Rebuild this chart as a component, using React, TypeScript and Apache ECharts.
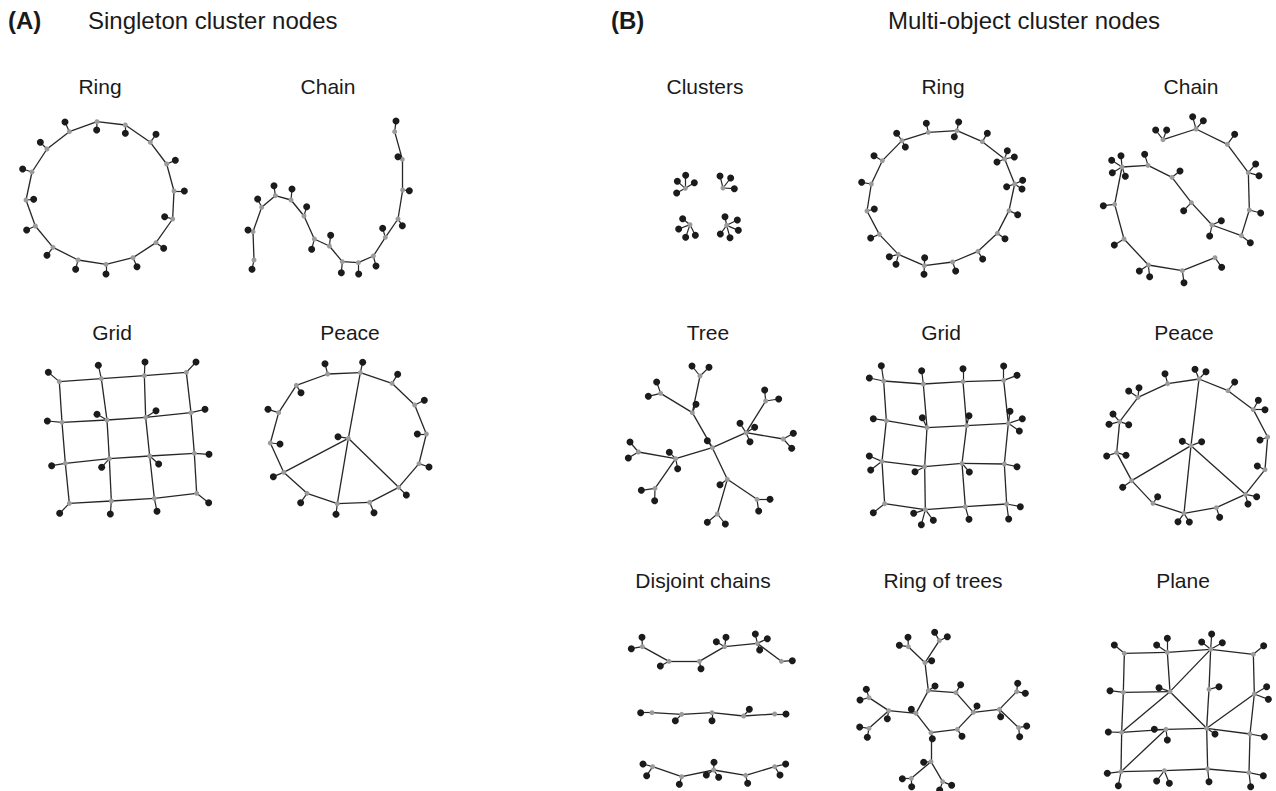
import React, { useEffect, useRef } from "react";
import * as echarts from "echarts";

// ---------- DATA (node coordinates in each panel's local units) ----------
// clusters: [x, y] gray cluster nodes; objects: [clusterIndex, x, y] black object nodes
const ringA_clusters = [[291,35],[376,45],[451,97],[500,162],[522,243],[518,327],[468,398],[399,443],[318,463],[234,450],[159,412],[106,348],[78,270],[96,186],[141,117],[208,65]];
const ringA_objects = [[0,290,60],[1,376,70],[2,468,73],[3,526,151],[4,553,243],[5,494,320],[6,491,415],[7,411,470],[8,318,492],[9,227,478],[10,141,436],[11,80,360],[12,101,268],[13,68,177],[14,121,97],[15,195,36]];

const chainA_clusters = [[72,465],[69,380],[95,307],[136,272],[183,285],[222,333],[253,402],[298,423],[337,470],[385,473],[430,453],[466,397],[504,342],[518,255],[517,163],[494,80]];
const chainA_objects = [[0,66,493],[1,54,375],[2,83,282],[3,132,242],[4,186,252],[5,230,305],[6,245,433],[7,302,391],[8,334,503],[9,386,507],[10,438,483],[11,458,370],[12,517,362],[13,538,257],[14,504,155],[15,498,48]];

const gridA_clusters = [[88,185],[214,176],[343,167],[469,157],[96,307],[231,300],[347,292],[483,278],[106,430],[238,416],[359,408],[493,400],[118,550],[244,543],[373,535],[500,520]];
const gridA_objects = [[0,55,157],[1,205,136],[2,345,126],[3,498,126],[4,52,303],[5,201,283],[6,378,272],[7,525,268],[8,65,437],[9,215,442],[10,386,432],[11,537,403],[12,89,580],[13,241,582],[14,381,574],[15,536,548]];

const peaceA_clusters = [[331,158],[426,190],[494,255],[529,342],[507,431],[446,502],[359,547],[262,551],[171,520],[101,457],[61,369],[86,278],[139,196],[233,162],[295,355]];
const peaceA_objects = [[0,338,127],[1,443,163],[2,523,241],[3,502,342],[4,537,441],[5,469,525],[6,372,578],[7,258,583],[8,152,548],[9,70,470],[10,90,372],[11,54,268],[12,153,218],[13,225,131],[14,264,350]];
const peaceA_spokes = [[14,0],[14,5],[14,7],[14,9]];

const clustersB_clusters = [[106,85],[219,84],[120,194],[230,196]];
const clustersB_objects = [[0,107,46],[0,82,64],[0,133,68],[0,80,99],[1,210,48],[1,242,54],[1,253,86],[2,98,176],[2,86,207],[2,107,232],[2,136,226],[3,225,170],[3,262,180],[3,265,211],[3,240,233],[3,211,222]];

const ringB_clusters = [[250,67],[336,62],[412,95],[479,147],[509,222],[492,302],[457,370],[399,424],[323,456],[238,467],[160,433],[103,373],[66,303],[79,222],[112,152],[171,92]];
const ringB_objects = [[0,244,40],[1,341,36],[1,328,80],[2,427,70],[3,487,122],[3,508,141],[3,456,156],[4,533,211],[4,531,237],[4,485,230],[5,518,314],[6,480,386],[7,413,447],[8,332,483],[9,239,443],[9,237,493],[10,133,440],[10,153,463],[11,77,384],[12,88,297],[13,50,217],[14,87,137],[15,155,70],[15,181,111]];

const chainB_clusters = [[234,104],[333,72],[427,118],[490,203],[493,315],[469,392],[381,360],[319,293],[261,217],[189,181],[111,186],[89,298],[117,402],[190,480],[292,497],[390,458]];
const chainB_objects = [[0,212,75],[0,245,75],[1,323,35],[1,355,47],[2,449,88],[3,512,177],[3,522,212],[4,527,324],[5,496,413],[6,409,347],[6,374,393],[7,296,317],[8,285,198],[9,179,148],[10,80,166],[10,108,152],[10,82,203],[10,121,214],[11,55,302],[12,88,420],[13,163,498],[13,194,515],[14,297,533],[15,410,487]];

const treeB_clusters = [[307,383],[247,278],[270,168],[152,220],[408,338],[467,243],[520,357],[197,416],[85,396],[135,505],[352,478],[441,538],[322,582]];
const treeB_edges = [[0,1],[1,2],[1,3],[0,4],[4,5],[4,6],[0,7],[7,8],[7,9],[0,10],[10,11],[10,12]];
const treeB_objects = [[0,292,362],[1,258,253],[2,246,138],[2,297,142],[3,140,186],[3,115,229],[4,390,310],[4,434,322],[4,420,365],[5,464,210],[5,506,237],[6,550,340],[6,545,385],[7,178,397],[7,203,446],[8,60,366],[8,55,414],[9,94,511],[9,134,542],[10,330,494],[11,480,538],[11,446,573],[12,292,607],[12,346,612]];

const gridB_clusters = [[101,183],[220,192],[339,185],[461,181],[109,302],[231,323],[350,317],[475,310],[96,424],[224,440],[336,430],[463,432],[104,551],[226,569],[346,560],[470,552]];
const gridB_objects = [[0,94,137],[0,58,174],[1,215,152],[2,339,146],[3,461,138],[3,501,166],[4,70,296],[5,217,293],[6,357,287],[7,480,274],[7,517,296],[7,508,333],[8,58,408],[8,62,450],[9,195,455],[10,358,456],[11,501,440],[12,70,578],[13,191,580],[13,214,614],[13,250,601],[14,357,598],[15,476,597],[15,511,560]];

const peaceB_clusters = [[342,177],[429,212],[505,269],[548,351],[540,449],[481,523],[394,563],[297,580],[204,550],[140,482],[95,398],[104,305],[159,232],[248,191],[318,377]];
const peaceB_objects = [[0,330,148],[0,363,155],[1,449,186],[2,520,241],[2,540,269],[3,525,360],[4,517,438],[5,515,530],[5,489,552],[6,404,592],[7,279,605],[7,313,606],[8,218,530],[9,113,502],[10,65,408],[10,123,406],[11,84,282],[11,72,313],[11,131,314],[12,131,213],[12,162,203],[13,240,161],[14,292,364],[14,350,365]];
const peaceB_spokes = [[14,0],[14,5],[14,7],[14,9]];

const disjointB_clusters = [[97,80],[177,124],[268,124],[344,80],[442,70],[514,124],[126,278],[215,283],[306,278],[401,288],[494,282],[128,440],[215,470],[311,450],[407,466],[494,440]];
const disjointB_edges = [[0,1],[1,2],[2,3],[3,4],[4,5],[6,7],[7,8],[8,9],[9,10],[11,12],[12,13],[13,14],[14,15]];
const disjointB_objects = [[0,96,52],[0,64,86],[1,151,138],[2,273,146],[3,319,65],[3,348,52],[4,436,42],[4,472,56],[4,449,90],[5,547,122],[6,92,278],[7,196,302],[8,306,302],[9,418,268],[10,528,282],[11,99,432],[11,110,467],[12,208,493],[13,312,427],[13,289,465],[13,326,472],[14,413,490],[15,527,432],[15,510,465]];

const ringTreesB_clusters = [[250,212],[333,218],[385,277],[337,328],[258,338],[213,280],[240,128],[190,80],[283,62],[131,272],[72,233],[72,325],[463,268],[515,215],[521,323],[258,425],[199,475],[293,485]];
const ringTreesB_edges = [[0,1],[1,2],[2,3],[3,4],[4,5],[5,0],[0,6],[6,7],[6,8],[5,9],[9,10],[9,11],[2,12],[12,13],[12,14],[4,15],[15,16],[15,17]];
const ringTreesB_objects = [[0,270,198],[1,347,194],[2,396,258],[3,351,349],[4,262,356],[5,199,268],[6,260,122],[7,163,76],[7,189,52],[8,269,37],[8,307,50],[9,127,296],[10,64,208],[10,45,240],[11,44,321],[11,67,352],[12,467,290],[13,518,190],[13,541,220],[14,545,318],[14,524,350],[15,236,427],[16,172,476],[16,200,500],[17,320,496],[17,284,510]];

const planeB_clusters = [[88,100],[217,97],[347,88],[475,103],[85,217],[225,215],[342,208],[478,222],[80,337],[213,328],[335,325],[465,342],[78,455],[208,452],[338,447],[462,458]];
const planeB_edges = [[0,1],[1,2],[2,3],[4,5],[8,9],[9,10],[10,11],[12,13],[13,14],[14,15],[0,4],[4,8],[8,12],[1,5],[2,6],[6,10],[10,14],[3,7],[7,11],[11,15],[8,5],[5,2],[5,10],[10,7],[12,9]];
const planeB_objects = [[0,58,75],[1,185,75],[1,217,55],[2,320,66],[2,350,42],[2,382,68],[3,506,77],[4,45,212],[5,192,203],[6,372,200],[7,515,200],[7,520,238],[8,40,336],[9,178,328],[9,217,360],[10,360,342],[11,508,350],[12,37,460],[12,70,497],[13,185,483],[13,223,490],[14,342,485],[15,505,467],[15,467,500]];

// Titles
const headerTexts = ["(A)", "Singleton cluster nodes", "(B)", "Multi-object cluster nodes"];
const panelTitles = ["Ring", "Chain", "Grid", "Peace", "Clusters", "Ring", "Chain", "Tree", "Grid", "Peace", "Disjoint chains", "Ring of trees", "Plane"];

// ---------- topology helpers ----------
const ringEdges = (n: number) => Array.from({ length: n }, (_, i) => [i, (i + 1) % n]);
const pathEdges = (n: number) => Array.from({ length: n - 1 }, (_, i) => [i, i + 1]);
const gridEdges = (r: number, c: number) => {
  const e: number[][] = [];
  for (let i = 0; i < r; i++)
    for (let j = 0; j < c; j++) {
      const k = i * c + j;
      if (j < c - 1) e.push([k, k + 1]);
      if (i < r - 1) e.push([k, k + c]);
    }
  return e;
};

// ---------- layout (panel placement in px; local units are 3x px) ----------
const panels = [
  { clusters: ringA_clusters, edges: ringEdges(16), objects: ringA_objects, left: 0, top: 110, w: 200, h: 175, tx: 100, ty: 86 },
  { clusters: chainA_clusters, edges: pathEdges(16), objects: chainA_objects, left: 230, top: 105, w: 190, h: 180, tx: 328, ty: 86 },
  { clusters: gridA_clusters, edges: gridEdges(4, 4), objects: gridA_objects, left: 30, top: 320, w: 195, h: 205, tx: 112, ty: 332 },
  { clusters: peaceA_clusters, edges: [...ringEdges(14), ...peaceA_spokes], objects: peaceA_objects, left: 250, top: 320, w: 195, h: 205, tx: 350, ty: 332 },
  { clusters: clustersB_clusters, edges: [], objects: clustersB_objects, left: 650, top: 160, w: 110, h: 90, tx: 705, ty: 86 },
  { clusters: ringB_clusters, edges: ringEdges(16), objects: ringB_objects, left: 845, top: 110, w: 195, h: 180, tx: 943, ty: 86 },
  { clusters: chainB_clusters, edges: pathEdges(16), objects: chainB_objects, left: 1085, top: 105, w: 191, h: 190, tx: 1191, ty: 86 },
  { clusters: treeB_clusters, edges: treeB_edges, objects: treeB_objects, left: 610, top: 320, w: 190, h: 215, tx: 708, ty: 332 },
  { clusters: gridB_clusters, edges: gridEdges(4, 4), objects: gridB_objects, left: 850, top: 320, w: 190, h: 210, tx: 941, ty: 332 },
  { clusters: peaceB_clusters, edges: [...ringEdges(14), ...peaceB_spokes], objects: peaceB_objects, left: 1085, top: 320, w: 191, h: 210, tx: 1184, ty: 332 },
  { clusters: disjointB_clusters, edges: disjointB_edges, objects: disjointB_objects, left: 610, top: 620, w: 190, h: 165, tx: 703, ty: 580 },
  { clusters: ringTreesB_clusters, edges: ringTreesB_edges, objects: ringTreesB_objects, left: 845, top: 620, w: 200, h: 171, tx: 943, ty: 580 },
  { clusters: planeB_clusters, edges: planeB_edges, objects: planeB_objects, left: 1095, top: 620, w: 181, h: 171, tx: 1183, ty: 580 },
];

const GRAY = "#9b9b9b";
const BLACK = "#1b1b1b";
const LINE = "#262626";
const FONT = "Liberation Sans, Arial, Helvetica, sans-serif";

export default function App() {
  const ref = useRef<HTMLDivElement>(null);
  useEffect(() => {
    if (!ref.current) return;
    const chart = echarts.init(ref.current, undefined, { renderer: "svg" });
    const grids: any[] = [];
    const xAxes: any[] = [];
    const yAxes: any[] = [];
    const series: any[] = [];
    const graphic: any[] = [];

    panels.forEach((p, i) => {
      grids.push({ left: p.left, top: p.top, width: p.w, height: p.h, show: false });
      xAxes.push({ gridIndex: i, type: "value", min: 0, max: p.w * 3, show: false });
      yAxes.push({ gridIndex: i, type: "value", min: 0, max: p.h * 3, inverse: true, show: false });
      const nC = p.clusters.length;
      const data = [
        ...p.clusters.map((c, k) => ({ name: `c${k}`, value: [c[0], c[1]], symbolSize: 5, itemStyle: { color: GRAY } })),
        ...p.objects.map((o, k) => ({ name: `o${k}`, value: [o[1], o[2]], symbolSize: 7, itemStyle: { color: BLACK } })),
      ];
      const links = [
        ...p.edges.map((e) => ({ source: e[0], target: e[1], lineStyle: { width: 1.3 } })),
        ...p.objects.map((o, k) => ({ source: o[0], target: nC + k, lineStyle: { width: 1.2 } })),
      ];
      series.push({
        type: "graph",
        coordinateSystem: "cartesian2d",
        xAxisIndex: i,
        yAxisIndex: i,
        symbol: "circle",
        data,
        links,
        silent: true,
        label: { show: false },
        lineStyle: { color: LINE, opacity: 1, curveness: 0 },
        emphasis: { disabled: true },
      });
      graphic.push({
        type: "text",
        x: p.tx,
        y: p.ty,
        style: { text: panelTitles[i], font: `21px ${FONT}`, fill: "#1a1a1a", textAlign: "center", textVerticalAlign: "middle" },
      });
    });

    graphic.push(
      { type: "text", x: 8, y: 20, style: { text: headerTexts[0], font: `bold 24px ${FONT}`, fill: "#1a1a1a", textAlign: "left", textVerticalAlign: "middle" } },
      { type: "text", x: 88, y: 20, style: { text: headerTexts[1], font: `24px ${FONT}`, fill: "#1a1a1a", textAlign: "left", textVerticalAlign: "middle" } },
      { type: "text", x: 611, y: 20, style: { text: headerTexts[2], font: `bold 24px ${FONT}`, fill: "#1a1a1a", textAlign: "left", textVerticalAlign: "middle" } },
      { type: "text", x: 888, y: 20, style: { text: headerTexts[3], font: `24px ${FONT}`, fill: "#1a1a1a", textAlign: "left", textVerticalAlign: "middle" } }
    );

    chart.setOption({
      animation: false,
      backgroundColor: "#ffffff",
      grid: grids,
      xAxis: xAxes,
      yAxis: yAxes,
      series,
      graphic,
    });
    return () => chart.dispose();
  }, []);
  return <div ref={ref} style={{ position: "fixed", left: 0, top: 0, width: 1276, height: 791 }} />;
}
